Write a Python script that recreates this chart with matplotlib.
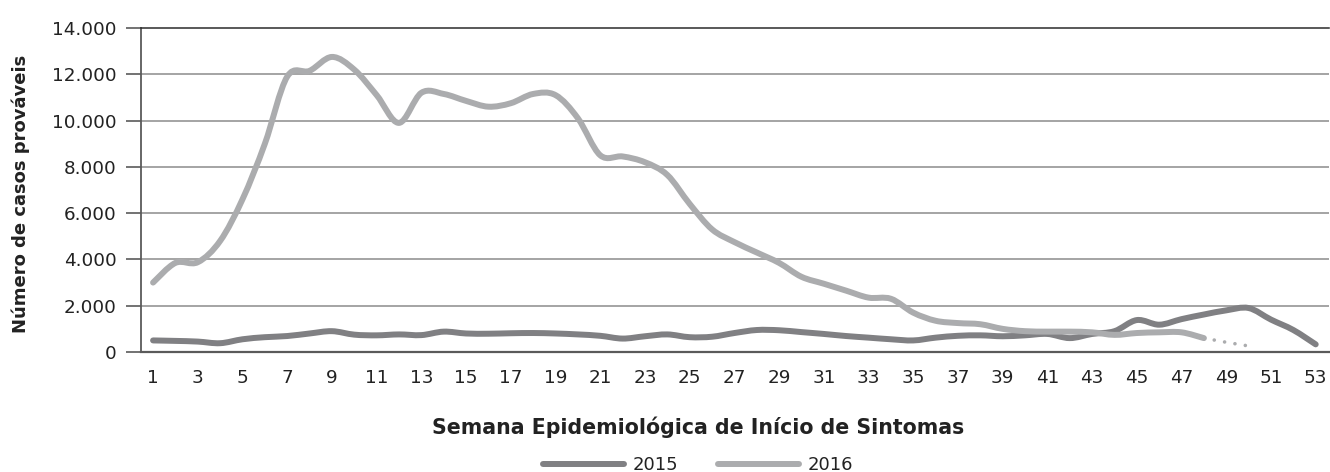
import numpy as np
import matplotlib
matplotlib.use("Agg")
import matplotlib.pyplot as plt
from matplotlib.path import Path
from matplotlib.patches import PathPatch
from matplotlib.lines import Line2D

plt.rcParams['font.family'] = ['DejaVu Sans']

# ---- data ----
weeks = list(range(1, 54))
cases_2015 = [500, 480, 450, 380, 550, 640, 690, 800, 900, 750,
              720, 760, 730, 880, 800, 790, 810, 820, 800, 760,
              700, 580, 680, 760, 640, 660, 820, 950, 940, 860,
              780, 690, 620, 550, 500, 620, 700, 720, 680, 720,
              780, 600, 780, 900, 1380, 1180, 1420, 1620, 1800, 1900,
              1400, 950, 330]
weeks_2016 = list(range(1, 49))
cases_2016 = [3000, 3850, 3880, 4800, 6600, 9000, 11900, 12150, 12750, 12200,
              11100, 9900, 11200, 11150, 10850, 10600, 10750, 11150, 11100, 10100,
              8500, 8450, 8200, 7650, 6400, 5300, 4750, 4300, 3850, 3250,
              2950, 2650, 2350, 2300, 1700, 1350, 1250, 1200, 1000, 900,
              880, 880, 850, 740, 820, 850, 850, 600]
weeks_2016_incomplete = [48, 49, 50]
cases_2016_incomplete = [600, 420, 260]
series_labels = ['2015', '2016']
y_ticks = [0, 2000, 4000, 6000, 8000, 10000, 12000, 14000]
x_ticks = list(range(1, 54, 2))
y_label = 'Número de casos prováveis'
x_label = 'Semana Epidemiológica de Início de Sintomas'

c2015 = '#808083'
c2016 = '#abacae'
txt = '#222222'


def smooth_path(xs, ys):
    xs = np.asarray(xs, float)
    ys = np.asarray(ys, float)
    pts = np.column_stack([xs, ys])
    n = len(pts)
    verts = [pts[0]]
    codes = [Path.MOVETO]
    for i in range(n - 1):
        p0 = pts[i - 1] if i > 0 else pts[i]
        p1 = pts[i]
        p2 = pts[i + 1]
        p3 = pts[i + 2] if i + 2 < n else pts[i + 1]
        c1 = p1 + (p2 - p0) / 6.0
        c2 = p2 - (p3 - p1) / 6.0
        verts += [c1, c2, p2]
        codes += [Path.CURVE4] * 3
    return Path(verts, codes)


fig = plt.figure(figsize=(13.3, 4.72), dpi=100)
ax = fig.add_axes([141 / 1330, 1 - 352 / 472, (1330 - 141) / 1330 - 0.001, 324 / 472])
ax.set_xlim(0.46, 53.58)
ax.set_ylim(0, 14000)

# gridlines
for v in y_ticks[1:-1]:
    ax.axhline(v, color='#8c8c8c', lw=1.1, zorder=1)

ax.add_patch(PathPatch(smooth_path(weeks, cases_2015), fill=False, edgecolor=c2015,
                       lw=4.3, capstyle='round', joinstyle='round', zorder=3))
ax.add_patch(PathPatch(smooth_path(weeks_2016, cases_2016), fill=False, edgecolor=c2016,
                       lw=4.3, capstyle='round', joinstyle='round', zorder=4))
ax.plot(weeks_2016_incomplete, cases_2016_incomplete, color=c2016, lw=2.6,
        linestyle=(0, (0.01, 2.9)), dash_capstyle='round', zorder=4)

ax.spines['right'].set_visible(False)
ax.spines['top'].set_color('#2b2b2b')
ax.spines['top'].set_linewidth(1.1)
ax.spines['left'].set_color('#5a5a5a')
ax.spines['left'].set_linewidth(1.3)
ax.spines['bottom'].set_color('#5a5a5a')
ax.spines['bottom'].set_linewidth(1.6)

ax.set_yticks(y_ticks)
ax.set_yticklabels([f"{v:,}".replace(',', '.') for v in y_ticks])
ax.set_xticks(x_ticks)
ax.set_xticklabels([str(w) for w in x_ticks])
ax.tick_params(axis='y', direction='out', length=11, width=1.2, color='#5a5a5a',
               pad=6.5, labelsize=13.2, labelcolor=txt)
ax.tick_params(axis='x', length=0, pad=12, labelsize=13.2, labelcolor=txt)

fig.text(21 / 1330, 1 - 194 / 472, y_label, rotation=90, ha='center', va='center',
         fontsize=13, fontweight='bold', color=txt)
fig.text(698 / 1330, 1 - 427 / 472, x_label, ha='center', va='center',
         fontsize=14.8, fontweight='bold', color=txt)

handles = [Line2D([], [], color=c2015, lw=4.3, solid_capstyle='round'),
           Line2D([], [], color=c2016, lw=4.3, solid_capstyle='round')]
fig.legend(handles, series_labels, loc='center', bbox_to_anchor=(698 / 1330, 1 - 465 / 472),
           ncol=2, frameon=False, fontsize=13, handlelength=4.5, handletextpad=0.45,
           columnspacing=2.2, borderpad=0, labelcolor=txt)

fig.savefig('out.png', dpi=100)
